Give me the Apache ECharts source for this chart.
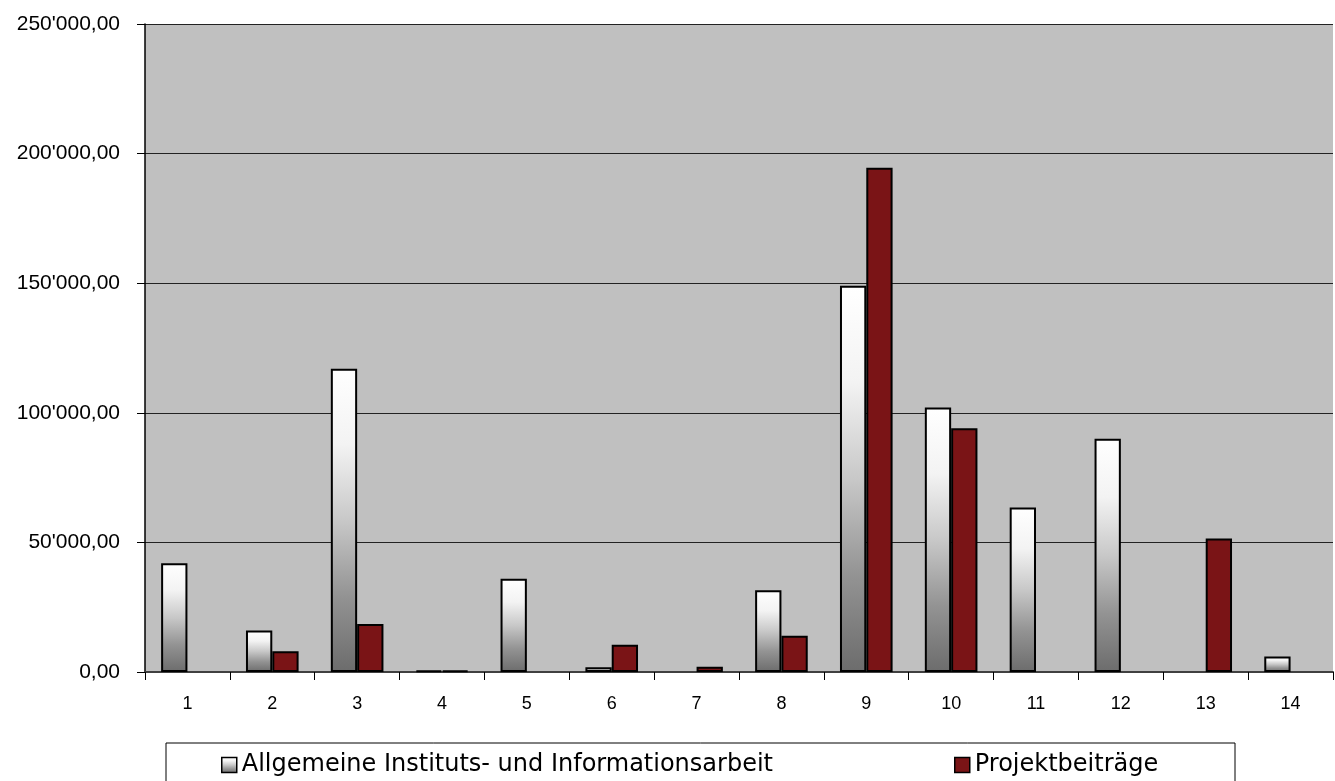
<!DOCTYPE html>
<html>
<head>
<meta charset="utf-8">
<script src="https://cdn.jsdelivr.net/npm/echarts@6/dist/echarts.min.js"></script>
<style>
  html, body { margin: 0; padding: 0; background: #fff; }
  #chart { width: 1335px; height: 781px; }
</style>
</head>
<body>
<div id="chart"></div>
<script>
// Categories and values
const categories = ['1','2','3','4','5','6','7','8','9','10','11','12','13','14'];
const seriesNames = ['Allgemeine Instituts- und Informationsarbeit', 'Projektbeiträge'];
const allgemeine = [42000, 16000, 117000, 500, 36000, 1800, 0, 31500, 149000, 102000, 63500, 90000, 0, 6000];
const projekt = [0, 8000, 18500, 500, 0, 10500, 2000, 14000, 194500, 94000, 0, 0, 51500, 0];
const yTicks = [0, 50000, 100000, 150000, 200000, 250000];

function fmt(v) {
  // 250'000,00 style
  const s = Math.round(v).toString().replace(/\B(?=(\d{3})+(?!\d))/g, "'");
  return s + ',00';
}
// empty bars are left out instead of being drawn as a flat outline
const asBars = arr => arr.map(v => (v === 0 ? '-' : v));

const chart = echarts.init(document.getElementById('chart'), null, { renderer: 'canvas' });

const silverGradient = new echarts.graphic.LinearGradient(0, 0, 0, 1, [
  { offset: 0, color: '#ffffff' },
  { offset: 0.25, color: '#f3f3f3' },
  { offset: 0.5, color: '#c8c8c8' },
  { offset: 0.75, color: '#939393' },
  { offset: 1, color: '#6c6c6c' }
]);

const legendText = { fontFamily: 'DejaVu Sans', fontSize: 24, lineHeight: 24, color: '#000' };
const legendCommon = {
  top: 753, padding: 0,
  itemWidth: 15, itemHeight: 15, itemGap: 0,
  icon: 'rect',
  itemStyle: { borderColor: '#000', borderWidth: 1.5 },
  textStyle: legendText,
  selectedMode: false,
  z: 10
};

chart.setOption({
  animation: false,
  backgroundColor: '#ffffff',
  grid: {
    left: 145, right: 2, top: 24, bottom: 109,
    show: true, backgroundColor: '#c0c0c0', borderWidth: 0
  },
  graphic: [{
    type: 'rect', z: 1,
    shape: { x: 166, y: 743, width: 1069, height: 60 },
    style: { fill: '#ffffff', stroke: '#000', lineWidth: 1 }
  }],
  legend: [
    Object.assign({ data: [seriesNames[0]], left: 221 }, legendCommon),
    Object.assign({ data: [seriesNames[1]], left: 954 }, legendCommon)
  ],
  xAxis: {
    type: 'category',
    data: categories,
    axisLine: { show: true, lineStyle: { color: '#404040', width: 2 } },
    axisTick: { show: true, length: 8, lineStyle: { color: '#000', width: 1 } },
    axisLabel: { margin: 23, fontFamily: 'Liberation Sans', fontSize: 18, color: '#000' },
    splitLine: { show: false }
  },
  yAxis: {
    type: 'value',
    min: yTicks[0], max: yTicks[yTicks.length - 1], interval: 50000,
    axisLine: { show: true, lineStyle: { color: '#000', width: 1.5 } },
    axisTick: { show: true, length: 8, lineStyle: { color: '#000', width: 1 } },
    axisLabel: {
      margin: 25, fontFamily: 'Liberation Sans', fontSize: 21, color: '#000',
      formatter: fmt
    },
    splitLine: { show: true, lineStyle: { color: '#222', width: 1 } }
  },
  series: [
    {
      name: seriesNames[0],
      type: 'bar',
      data: asBars(allgemeine),
      barGap: '0%',
      barCategoryGap: '38%',
      itemStyle: { color: silverGradient, borderColor: '#000', borderWidth: 2 }
    },
    {
      name: seriesNames[1],
      type: 'bar',
      data: asBars(projekt),
      itemStyle: { color: '#7a1416', borderColor: '#000', borderWidth: 2 }
    }
  ]
});
</script>
</body>
</html>
